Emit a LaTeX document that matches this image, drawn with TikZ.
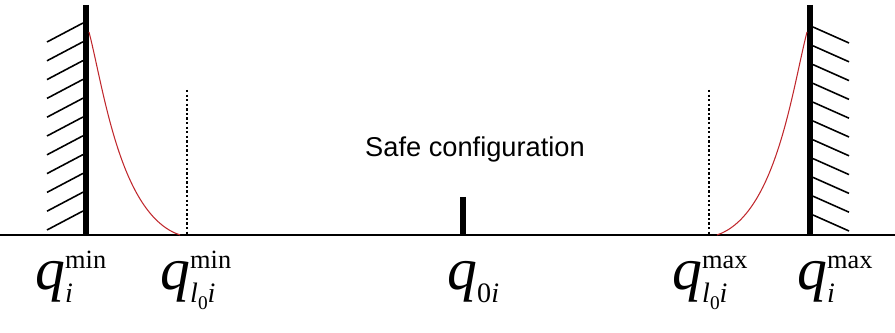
\documentclass[tikz,border=0pt]{standalone}
\usepackage{fontspec}
\setmainfont{Liberation Serif}
\newfontfamily\labelsans{Liberation Sans}
\usetikzlibrary{calc}
\definecolor{curvered}{HTML}{C0282D}

% joint limit labels, built by hand
\newcommand{\qbig}{\fontsize{34}{34}\selectfont\itshape q}
\newcommand{\qsup}[1]{\rlap{\raisebox{12.5pt}{\fontsize{15}{15}\selectfont\upshape #1}}}
\newcommand{\qsub}[1]{\raisebox{-7pt}{\fontsize{16}{16}\selectfont\itshape #1}}
\newcommand{\lzero}{l\raisebox{-4pt}{\fontsize{11}{11}\selectfont\upshape 0}}

\begin{document}
\begin{tikzpicture}[
    x=0.02cm, y=-0.02cm,
    axis/.style = {line width=1.1pt},
    wall/.style = {line width=3.4pt},
    hatch/.style = {line width=0.9pt},
    limit/.style = {line width=1.4pt, dash pattern=on 1.3pt off 1.3pt},
    tick/.style = {line width=3.4pt},
    curve/.style = {line width=0.6pt, color=curvered},
    qlabel/.style = {anchor=base west, inner sep=0pt}
  ]
    \useasboundingbox (0,0) rectangle (895,333);

    % Axis
    \coordinate (axl) at (0,235);
    \coordinate (axr) at (895,235);
    \draw[axis] (axl) -- (axr);

    % Walls
    \coordinate (lwalltop) at (86,5);
    \coordinate (lwallbot) at (86,235);
    \coordinate (rwalltop) at (810,5);
    \coordinate (rwallbot) at (810,235);
    \draw[wall] (lwalltop) -- (lwallbot);
    \draw[wall] (rwalltop) -- (rwallbot);

    % Hatching
    \foreach \k in {0,...,10} {
      \draw[hatch] ($(lwalltop)+(-3,18+18.8*\k)$) -- ++(-36,19);
      \draw[hatch] ($(rwalltop)+(3,22+18.8*\k)$) -- ++(36,16);
    }

    % Soft limits
    \coordinate (lsofttop) at (187,90);
    \coordinate (lsoftbot) at (187,235);
    \coordinate (rsofttop) at (709,90);
    \coordinate (rsoftbot) at (709,235);
    \draw[limit] (lsofttop) -- (lsoftbot);
    \draw[limit] (rsofttop) -- (rsoftbot);

    % Safe configuration
    \coordinate (safetop) at (463,197);
    \coordinate (safebot) at (463,235);
    \draw[tick] (safetop) -- (safebot);
    \node[font=\labelsans\fontsize{15.5}{15.5}\selectfont] (safe) at (475,149) {Safe configuration};

    % Repulsive potential
    \draw[curve] (89,32) .. controls (104,90) and (120,215) .. (180,235);
    \draw[curve] (717,235) .. controls (776,215) and (792,90) .. (807,32);

    % Labels
    \node[qlabel] (qmin) at (35,290) {\qbig\qsup{min}\qsub{i}};
    \node[qlabel] (qlmin) at (160,290) {\qbig\qsup{min}\qsub{\lzero i}};
    \node[qlabel] (qzero) at (447,290) {\qbig\qsub{\upshape 0\itshape i}};
    \node[qlabel] (qlmax) at (672,290) {\qbig\qsup{max}\qsub{\lzero i}};
    \node[qlabel] (qmax) at (797,290) {\qbig\qsup{max}\qsub{i}};

  \end{tikzpicture}
\end{document}
